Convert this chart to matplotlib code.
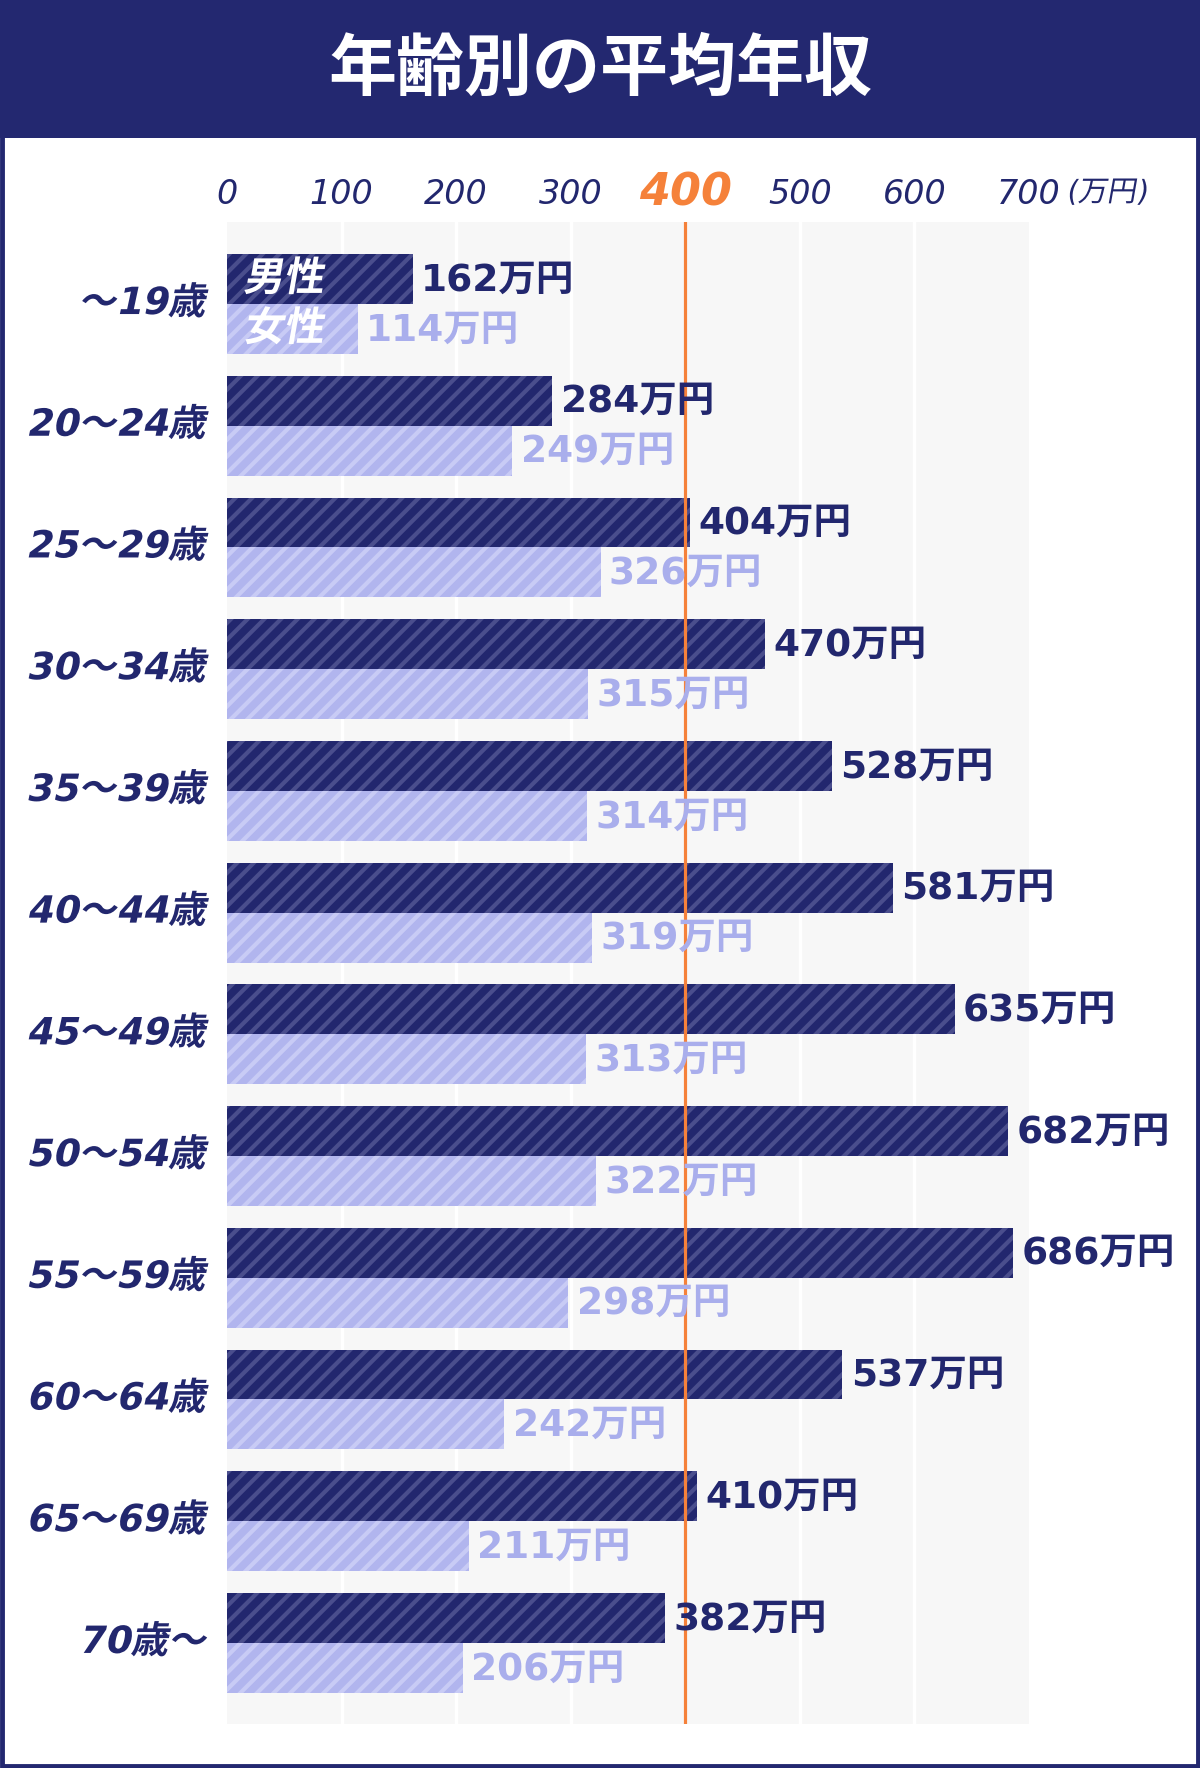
import numpy as np
import matplotlib
matplotlib.use("Agg")
import matplotlib.pyplot as plt
import matplotlib.patheffects as pe
from matplotlib.patches import Rectangle
from matplotlib.transforms import Affine2D

# --- data --- #
ages = ["～19歳", "20～24歳", "25～29歳", "30～34歳", "35～39歳", "40～44歳",
        "45～49歳", "50～54歳", "55～59歳", "60～64歳", "65～69歳", "70歳～"]
male = [162, 284, 404, 470, 528, 581, 635, 682, 686, 537, 410, 382]
female = [114, 249, 326, 315, 314, 319, 313, 322, 298, 242, 211, 206]
ticks = [0, 100, 200, 300, 400, 500, 600, 700]
title = "年齢別の平均年収"

NAVY = "#22276e"
NAVY_STRIPE = "#4a4e8d"
LAV = "#b1b5ee"
LAV_STRIPE = "#c8cbf5"
LAV_TEXT = "#a9aeec"
ORANGE = "#f5813a"
JP = ["Noto Sans CJK JP", "DejaVu Sans"]
MIX = ["DejaVu Sans", "Noto Sans CJK JP"]

plt.rcParams["font.family"] = JP
plt.rcParams["hatch.linewidth"] = 3.0


class Slant(pe.AbstractPathEffect):
    """fake italic for fonts without an oblique face"""

    def __init__(self, deg=12):
        super().__init__()
        self._skew = Affine2D().skew_deg(deg, 0)

    def draw_path(self, renderer, gc, tpath, affine, rgbFace=None):
        renderer.draw_path(gc, tpath, self._skew + affine, rgbFace)


W, H = 1200, 1768
fig = plt.figure(figsize=(W / 100, H / 100), dpi=100)
fig.patch.set_facecolor("white")

# title band and frame
fig.add_artist(Rectangle((0, 1 - 138 / H), 1, 138 / H, transform=fig.transFigure,
                         facecolor="#232870", edgecolor="none", zorder=0))
fig.add_artist(Rectangle((2 / W, 2.5 / H), 1 - 4 / W, 1 - 5 / H, transform=fig.transFigure,
                         facecolor="none", edgecolor="#232870", linewidth=3.5, zorder=5))
fig.text(0.5, 1 - 70 / H, title, ha="center", va="center", color="white",
         fontsize=49, fontweight="bold", family=JP)

left, right, top, bottom = 227, 1029, 222, 1724
ax = fig.add_axes([left / W, 1 - bottom / H, (right - left) / W, (bottom - top) / H])
ax.set_facecolor("#f7f7f7")
for s in ax.spines.values():
    s.set_visible(False)

y = np.arange(len(ages))
h = 0.41
ax.barh(y - h / 2, male, height=h, color=NAVY, edgecolor=NAVY_STRIPE, linewidth=0,
        hatch="//", zorder=3)
ax.barh(y + h / 2, female, height=h, color=LAV, edgecolor=LAV_STRIPE, linewidth=0,
        hatch="//", zorder=3)

for gx in ticks[1:-1]:
    ax.axvline(gx, color="white", linewidth=2.4, zorder=1)
ax.axvline(400, color=ORANGE, linewidth=2.3, zorder=6)

ax.set_xlim(0, 700)
ax.set_ylim(12.34 - 0.674, -0.674)

# value labels
for i, (m, f) in enumerate(zip(male, female)):
    ax.annotate("{}万円".format(m), (m, i - h / 2), xytext=(6, -1), textcoords="offset points",
                ha="left", va="center", color=NAVY, fontsize=27, fontweight="bold",
                family=MIX, zorder=7)
    ax.annotate("{}万円".format(f), (f, i + h / 2), xytext=(6, -1), textcoords="offset points",
                ha="left", va="center", color=LAV_TEXT, fontsize=27, fontweight="bold",
                family=MIX, zorder=7)

# legend inside first bars
ax.text(14, -h / 2, "男性", ha="left", va="center", color="white", fontsize=29,
        fontweight="bold", zorder=7, path_effects=[Slant(10)])
ax.text(14, h / 2, "女性", ha="left", va="center", color="white", fontsize=29,
        fontweight="bold", zorder=7, path_effects=[Slant(10)])

# age labels
ax.set_yticks([])
for i, a in enumerate(ages):
    ax.text(-19, i, a, ha="right", va="center", color=NAVY, fontsize=27,
            fontweight="bold", family=MIX, path_effects=[Slant(12)], clip_on=False)

# top tick labels
ax.set_xticks([])
span = bottom - top
for t in ticks:
    if t == 400:
        ax.text(t, 1 + 8 / span, str(t), transform=ax.get_xaxis_transform(), ha="center",
                va="bottom", color=ORANGE, fontsize=32, fontweight="bold",
                family="DejaVu Sans", style="italic", clip_on=False)
    else:
        ax.text(t, 1 + 11 / span, str(t), transform=ax.get_xaxis_transform(),
                ha="center", va="bottom", color=NAVY, fontsize=24, family="DejaVu Sans",
                style="italic", clip_on=False)
ax.text(1 + 37 / (right - left), 1 + 29 / span, "(万円)", transform=ax.transAxes, ha="left",
        va="center", color=NAVY, fontsize=21, family=MIX, path_effects=[Slant(10)],
        clip_on=False)

fig.savefig("out.png", dpi=100, facecolor="white")
